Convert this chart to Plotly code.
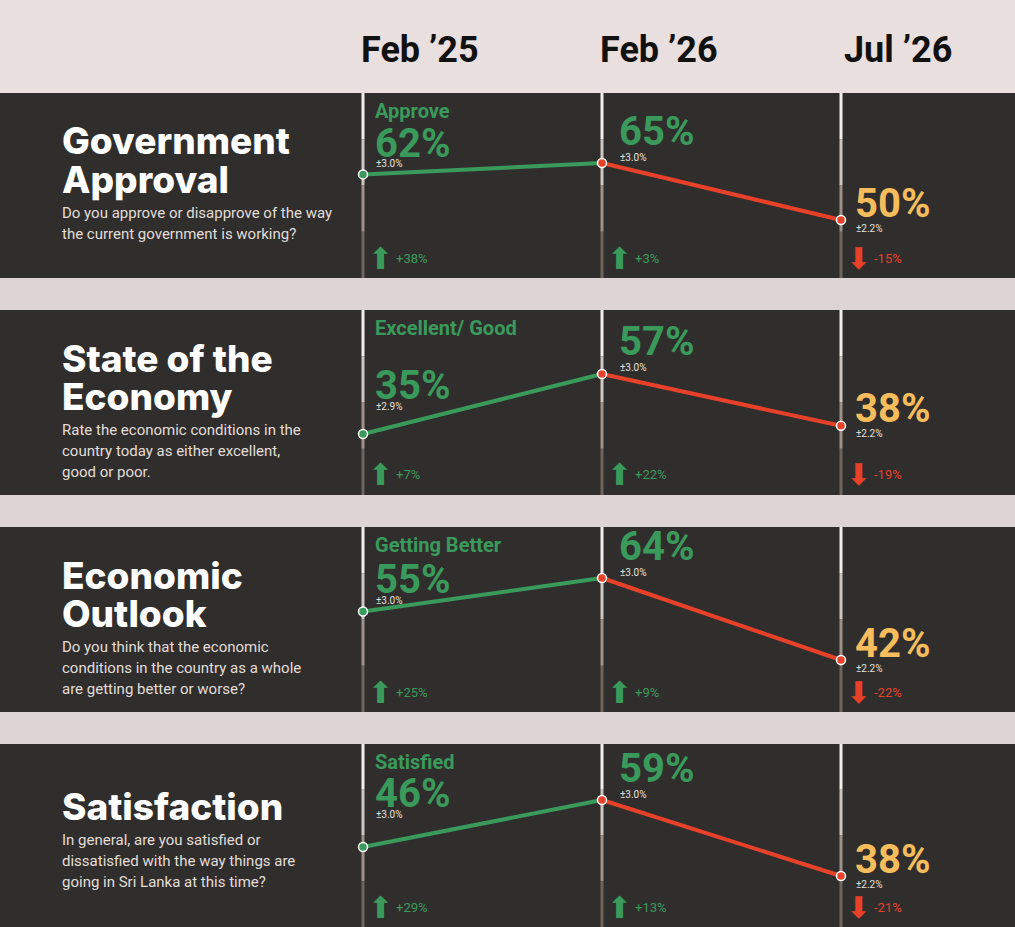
"""Sri Lanka opinion tracker infographic: four stacked panels."""

import plotly.graph_objects as go
from plotly.subplots import make_subplots

W, H = 1015, 927
GREEN = "#3a9a5b"
RED = "#e8412a"
GOLD = "#f7bd5c"
PANEL = "#302e2d"
NARROW = "Roboto, sans-serif"
HEAD = "Inter, Lato, sans-serif"

periods = ["Feb \u201925", "Feb \u201926", "Jul \u201926"]

panels = [
    dict(title=["Government", "Approval"], label="Approve",
         desc=["Do you approve or disapprove of the way",
               "the current government is working?"],
         values=[62, 65, 50], moe=["\u00b13.0%", "\u00b13.0%", "\u00b12.2%"],
         change=[38, 3, -15], top=93, bottom=278, target=(70, 127), first_label=50),
    dict(title=["State of the", "Economy"], label="Excellent/ Good",
         desc=["Rate the economic conditions in the",
               "country today as either excellent,", "good or poor."],
         values=[35, 57, 38], moe=["\u00b12.9%", "\u00b13.0%", "\u00b12.2%"],
         change=[7, 22, -19], top=310, bottom=495, target=(64, 124), first_label=75),
    dict(title=["Economic", "Outlook"], label="Getting Better",
         desc=["Do you think that the economic",
               "conditions in the country as a whole",
               "are getting better or worse?"],
         values=[55, 64, 42], moe=["\u00b13.0%", "\u00b13.0%", "\u00b12.2%"],
         change=[25, 9, -22], top=527, bottom=712, target=(51, 133), first_label=52),
    dict(title=["Satisfaction"], label="Satisfied",
         desc=["In general, are you satisfied or",
               "dissatisfied with the way things are",
               "going in Sri Lanka at this time?"],
         values=[46, 59, 38], moe=["\u00b13.0%", "\u00b13.0%", "\u00b12.2%"],
         change=[29, 13, -21], top=744, bottom=927, target=(56, 132), first_label=49),
]


def py(p):
    """Pixel row to paper y."""
    return 1 - p / H


fig = make_subplots(rows=4, cols=1)
shapes = [dict(type="rect", xref="paper", yref="paper", x0=0, x1=1, y0=py(93), y1=1,
               fillcolor="#e9dfdf", line_width=0, layer="below")]
annotations = []

x0px, step = 363, 239
xr = [-x0px / step, (W - x0px) / step]

for i, p in enumerate(panels):
    r = i + 1
    T, B = p["top"], p["bottom"]
    ph = B - T
    vmax, vmin = max(p["values"]), min(p["values"])
    s = (p["target"][1] - p["target"][0]) / (vmax - vmin)  # px per point
    ytop = vmax + p["target"][0] / s
    ybot = vmin - (ph - p["target"][1]) / s
    xa = "xaxis" if r == 1 else f"xaxis{r}"
    ya = "yaxis" if r == 1 else f"yaxis{r}"
    fig.update_layout({
        xa: dict(domain=[0, 1], range=xr, visible=False, fixedrange=True),
        ya: dict(domain=[py(B), py(T)], range=[ybot, ytop], visible=False),
    })
    xref = "x" if r == 1 else f"x{r}"
    yref = "y" if r == 1 else f"y{r}"

    shapes.append(dict(type="rect", xref="paper", yref="paper", x0=0, x1=1,
                       y0=py(B), y1=py(T), fillcolor=PANEL, line_width=0, layer="below"))
    # vertical guides, fading from light to dark
    fades = ["#f2eeea", "#cfc6bf", "#9d9189", "#6e645d"]
    for j in range(3):
        for k, c in enumerate(fades):
            shapes.append(dict(type="line", xref=xref, yref="paper", x0=j, x1=j,
                               y0=py(T + ph * k / 4), y1=py(T + ph * (k + 1) / 4),
                               line=dict(color=c, width=3), layer="below"))

    v = p["values"]
    fig.add_trace(go.Scatter(x=[0, 1], y=v[:2], mode="lines",
                             line=dict(color=GREEN, width=4), hoverinfo="skip"), row=r, col=1)
    fig.add_trace(go.Scatter(x=[1, 2], y=v[1:], mode="lines",
                             line=dict(color=RED, width=4), hoverinfo="skip"), row=r, col=1)
    fig.add_trace(go.Scatter(x=[0, 1, 2], y=v, mode="markers",
                             marker=dict(size=9, color=[GREEN, RED, RED],
                                         line=dict(color="white", width=1.5)),
                             hoverinfo="skip"), row=r, col=1)

    # change arrows
    cols = [GREEN if c > 0 else RED for c in p["change"]]
    for j, c in enumerate(p["change"]):
        annotations.append(dict(x=j, y=py(B - 20), xref=xref, yref="paper", xshift=17,
                                xanchor="center", yanchor="middle", showarrow=False,
                                text="\u2b06" if c > 0 else "\u2b07",
                                font=dict(family="DejaVu Sans", size=30, color=cols[j])))
        annotations.append(dict(x=j, y=py(B - 20), xref=xref, yref="paper", xshift=31,
                                xanchor="left", yanchor="middle", text=f"{c:+d}%",
                                showarrow=False,
                                font=dict(family=NARROW, size=13, color=cols[j])))

    # value labels
    offs = [(10, None, None), (15, 32, 6), (12, 17, -8)]
    for j in range(3):
        dx, dy, dm = offs[j]
        big = dict(xanchor="left", yanchor="middle", showarrow=False,
                   text=f"<b>{v[j]}%</b>",
                   font=dict(family=NARROW, size=40, color=GOLD if j == 2 else GREEN))
        moe = dict(xanchor="left", yanchor="middle", showarrow=False, text=p["moe"][j],
                   font=dict(family=NARROW, size=10, color="#e6e1dc"))
        if dy is None:
            fl = T + p["first_label"]
            big.update(x=j, y=py(fl), xref=xref, yref="paper", xshift=dx)
            moe.update(x=j, y=py(fl + 21), xref=xref, yref="paper", xshift=dx + 1)
        else:
            big.update(x=j, y=v[j], xref=xref, yref=yref, xshift=dx, yshift=dy)
            moe.update(x=j, y=v[j], xref=xref, yref=yref, xshift=dx + 1, yshift=dm)
        annotations += [big, moe]
    annotations.append(dict(x=0, y=py(T + 18), xref=xref, yref="paper", xshift=10,
                            xanchor="left", yanchor="middle", showarrow=False,
                            text=f"<b>{p['label']}</b>",
                            font=dict(family=NARROW, size=20, color=GREEN)))

    # left titles and questions
    n = len(p["title"])
    tstart = T + (48 if n == 2 else 62)
    for k, line in enumerate(p["title"]):
        annotations.append(dict(x=60 / W, y=py(tstart + 38 * k), xref="paper", yref="paper",
                                xanchor="left", yanchor="middle", showarrow=False,
                                text=line,
                                font=dict(family=HEAD, size=37, color="white", weight=800)))
    dstart = tstart + 38 * (n - 1) + 34
    for k, line in enumerate(p["desc"]):
        annotations.append(dict(x=60 / W, y=py(dstart + 21 * k), xref="paper", yref="paper",
                                xanchor="left", yanchor="middle", showarrow=False, text=line,
                                font=dict(family="Roboto, sans-serif", size=15, color="#e2ddd8")))

for j, lab in enumerate(periods):
    annotations.append(dict(x=j, y=py(50), xref="x", yref="paper", xshift=57,
                            xanchor="center", yanchor="middle", showarrow=False,
                            text=f"<b>{lab}</b>",
                            font=dict(family=NARROW, size=36, color="#111111")))

fig.update_layout(
    width=W, height=H, margin=dict(l=0, r=0, t=0, b=0),
    paper_bgcolor="#ddd5d5", plot_bgcolor="rgba(0,0,0,0)",
    showlegend=False, shapes=shapes, annotations=annotations,
)

fig.write_html("out.html", config={"displayModeBar": False},
               post_script="document.body.style.margin='0';")
